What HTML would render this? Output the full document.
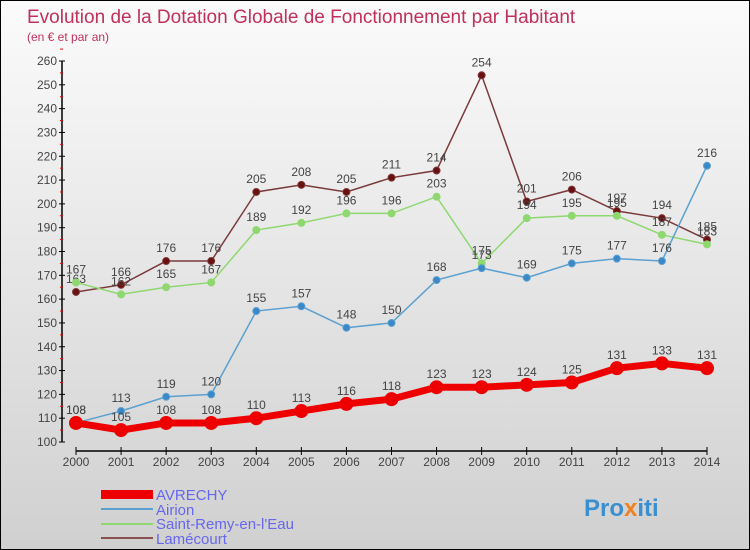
<!DOCTYPE html>
<html><head><meta charset="utf-8"><style>
body{margin:0}
#c{width:748px;height:548px;border:1px solid #000;background:linear-gradient(#fbfbfb,#d0d0d0);position:relative;font-family:"Liberation Sans",sans-serif;overflow:hidden}
</style></head><body>
<div id="c">
<svg id="s" width="748" height="548" xmlns="http://www.w3.org/2000/svg">
<text x="26" y="22" font-size="19" fill="#c0305a">Evolution de la Dotation Globale de Fonctionnement par Habitant</text>
<text x="26" y="40" font-size="12" fill="#c0305a">(en € et par an)</text>
<g id="ax"></g><g id="ser"></g>
<g id="leg">
<rect x="100" y="489" width="52" height="9" fill="#e00"/>
<text x="155" y="499" font-size="15" fill="#6666ee">AVRECHY</text>
<line x1="100" y1="508" x2="152" y2="508" stroke="#5aa0d0" stroke-width="2"/>
<text x="155" y="514" font-size="15" fill="#6666ee">Airion</text>
<line x1="100" y1="523" x2="152" y2="523" stroke="#8fd870" stroke-width="2"/>
<text x="155" y="528" font-size="15" fill="#6666ee">Saint-Remy-en-l'Eau</text>
<line x1="100" y1="537" x2="152" y2="537" stroke="#8a5050" stroke-width="2"/>
<text x="155" y="543" font-size="15" fill="#6666ee">Lamécourt</text>
</g>
<text x="583" y="515" font-size="24" font-weight="bold" fill="#3a8fd0">Pro<tspan fill="#f08020">x</tspan>iti</text>
</svg></div>
<script>
const years=[2000,2001,2002,2003,2004,2005,2006,2007,2008,2009,2010,2011,2012,2013,2014];
const yTicks=[100,110,120,130,140,150,160,170,180,190,200,210,220,230,240,250,260];
const avrechy=[108,105,108,108,110,113,116,118,123,123,124,125,131,133,131];
const airion=[108,113,119,120,155,157,148,150,168,173,169,175,177,176,216];
const saintRemy=[167,162,165,167,189,192,196,196,203,175,194,195,195,187,183];
const lamecourt=[163,166,176,176,205,208,205,211,214,254,201,206,197,194,185];
const NS="http://www.w3.org/2000/svg";
const X=i=>75+i*(706-75)/(years.length-1);
const Y=v=>441-(v-100)*(441-60)/160;
function mk(t,a,p){const e=document.createElementNS(NS,t);for(const k in a)e.setAttribute(k,a[k]);p.appendChild(e);return e;}
const ax=document.getElementById('ax');
const yl=mk('line',{x1:61,y1:60,x2:61,y2:441,stroke:'#000','stroke-width':1.5},ax);


yTicks.forEach(v=>{
  mk('line',{x1:58,y1:Y(v),x2:64,y2:Y(v),stroke:'#000'},ax);
  mk('line',{x1:59,y1:Y(v+5),x2:62,y2:Y(v+5),stroke:'#e00'},ax);
  const t=mk('text',{x:56,y:Y(v)+4,'font-size':12,'text-anchor':'end',fill:'#444'},ax);t.textContent=v;
  
  
});
const xl=mk('line',{x1:75,y1:450,x2:706,y2:450,stroke:'#000','stroke-width':1.5},ax);


years.forEach((y,i)=>{
  mk('line',{x1:X(i),y1:446,x2:X(i),y2:454,stroke:'#000'},ax);
  const t=mk('text',{x:X(i),y:465,'font-size':12,'text-anchor':'middle',fill:'#444'},ax);t.textContent=y;
  
  
});
const ser=document.getElementById('ser');
function draw(arr,name,col,w,r,dot){
  const g=mk('g',{},ser);
  
  
  const pl=mk('polyline',{points:arr.map((v,i)=>X(i)+','+Y(v)).join(' '),fill:'none',stroke:col,'stroke-width':w},g);
  
  
  arr.forEach((v,i)=>{
    const c=mk('circle',{cx:X(i),cy:Y(v),r:r,fill:dot,stroke:col,'stroke-width':1},g);
    
    
    const t=mk('text',{x:X(i),y:Y(v)-9,'font-size':12,'text-anchor':'middle',fill:'#444'},g);t.textContent=v;
    
    
  });
}
draw(lamecourt,'lamecourt','#7a3a3a',1.5,3.5,'#6a1010');
draw(saintRemy,'saint-remy','#8fd870',1.5,3.5,'#8fd870');
draw(airion,'airion','#5aa0d0',1.5,3.5,'#3a88c8');
draw(avrechy,'avrechy','#e00',7,6.5,'#e00');
</script>
</body></html>
